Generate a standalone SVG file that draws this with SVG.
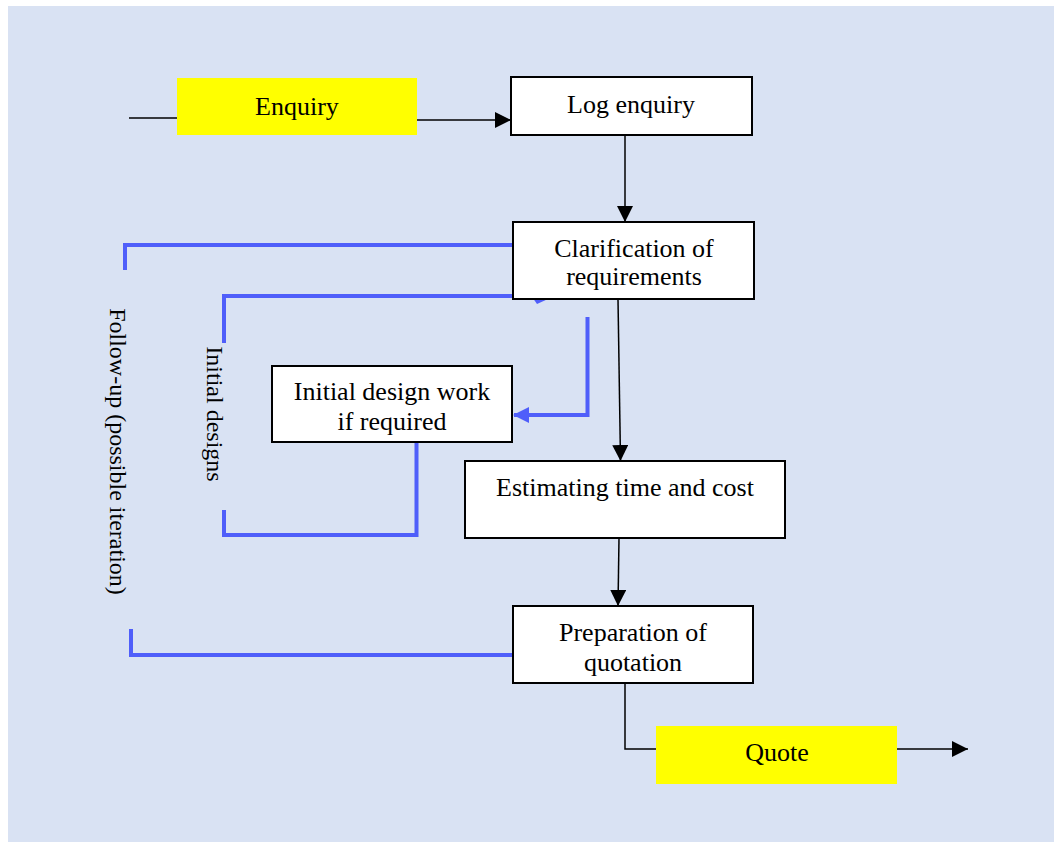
<svg xmlns="http://www.w3.org/2000/svg" width="1054" height="842" viewBox="0 0 1054 842">
<defs>
<marker id="ab" viewBox="0 0 16 16" refX="16" refY="8" markerWidth="16" markerHeight="16" markerUnits="userSpaceOnUse" orient="auto"><path d="M0,0 L16,8 L0,16 Z" fill="#000"/></marker>
<marker id="abl" viewBox="0 0 16 16" refX="15" refY="8" markerWidth="16" markerHeight="16" markerUnits="userSpaceOnUse" orient="auto"><path d="M0,0 L16,8 L0,16 Z" fill="#4F5EFA"/></marker>
<style>
.box{fill:#fff;stroke:#000;stroke-width:2}
.yel{fill:#FFFF00}
.t{font-family:"Liberation Serif","Times New Roman",serif;font-size:26px;fill:#000;text-anchor:middle}
.v{font-family:"Liberation Serif","Times New Roman",serif;font-size:24px;fill:#000;text-anchor:middle}
.k{fill:none;stroke:#000;stroke-width:1.5}
.b{fill:none;stroke:#4F5EFA;stroke-width:4}
</style>
</defs>
<rect x="8" y="6" width="1046" height="836" fill="#D9E2F3"/>
<g id="connectors">
<line class="k" x1="129" y1="118" x2="177" y2="118"/>
<line class="k" x1="417" y1="120" x2="511" y2="120" marker-end="url(#ab)"/>
<line class="k" x1="625" y1="135" x2="625" y2="222" marker-end="url(#ab)"/>
<line class="k" x1="618" y1="299" x2="620.5" y2="461" marker-end="url(#ab)"/>
<line class="k" x1="619" y1="538" x2="618" y2="606" marker-end="url(#ab)"/>
<polyline class="k" points="625,684 625,749 656,749"/>
<line class="k" x1="897" y1="749" x2="968" y2="749" marker-end="url(#ab)"/>
<polyline class="b" points="513,245 125,245 125,270"/>
<polyline class="b" points="131,629 131,655 513,655"/>
<polyline class="b" points="224,343 224,296 513,296"/>
<polygon points="530,294 548,299 537,304" fill="#4F5EFA"/>
<polyline class="b" points="224,510 224,535 416.5,535 416.5,443"/>
<polyline class="b" points="587.5,317 587.5,415 514,415" marker-end="url(#abl)"/>
</g>
<g id="enquiry"><rect class="yel" x="177" y="78" width="240" height="57"/><text class="t" x="297" y="115">Enquiry</text></g>
<g id="log-enquiry"><rect class="box" x="511" y="77" width="241" height="58"/><text class="t" x="631" y="113">Log enquiry</text></g>
<g id="clarification"><rect class="box" x="513" y="222" width="241" height="77"/><text class="t" x="634" y="257">Clarification of</text><text class="t" x="634" y="285">requirements</text></g>
<g id="initial-design"><rect class="box" x="272" y="366" width="240" height="76"/><text class="t" x="392" y="400">Initial design work</text><text class="t" x="392" y="430">if required</text></g>
<g id="estimating"><rect class="box" x="465" y="461" width="320" height="77"/><text class="t" x="625" y="496">Estimating time and cost</text></g>
<g id="preparation"><rect class="box" x="513" y="606" width="240" height="77"/><text class="t" x="633" y="641">Preparation of</text><text class="t" x="633" y="671">quotation</text></g>
<g id="quote"><rect class="yel" x="656" y="726" width="241" height="58"/><text class="t" x="777" y="761">Quote</text></g>
<g id="label-follow-up"><text class="v" transform="translate(110,451.5) rotate(90)">Follow-up (possible iteration)</text></g>
<g id="label-initial-designs"><text class="v" transform="translate(207,414) rotate(90)">Initial designs</text></g>
</svg>
